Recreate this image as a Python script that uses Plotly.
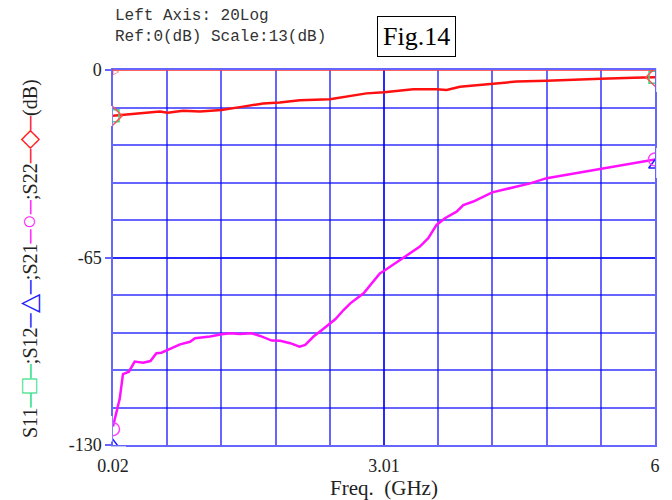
import plotly.graph_objects as go

# ---- data ----
s22_freq = [0.02, 0.204, 0.35, 0.536, 0.624, 0.793, 0.977, 1.217, 1.455, 1.676, 1.860, 2.081,
            2.412, 2.597, 2.817, 3.012, 3.186, 3.332, 3.590, 3.701, 3.848, 4.069, 4.204,
            4.473, 4.805, 5.136, 5.401, 5.761, 6.0]
s22_db = [-15.9, -15.3, -15.0, -14.4, -14.8, -14.1, -14.4, -13.9, -12.7, -11.6, -11.3, -10.5,
          -10.1, -9.2, -8.1, -7.7, -7.2, -6.7, -6.7, -6.9, -5.8, -5.2, -4.6,
          -4.0, -3.7, -3.2, -3.0, -2.7, -2.5]

s21_freq = [0.02, 0.094, 0.130, 0.196, 0.259, 0.351, 0.433, 0.499, 0.554, 0.620, 0.760, 0.870,
            0.925, 1.091, 1.220, 1.312, 1.422, 1.551, 1.643, 1.772, 1.864, 1.975, 2.078,
            2.141, 2.233, 2.325, 2.417, 2.472, 2.564, 2.638, 2.785, 2.964, 3.012, 3.186,
            3.406, 3.498, 3.590, 3.682, 3.811, 3.885, 3.995, 4.204, 4.288, 4.403, 4.623,
            4.805, 5.401, 5.945, 6.0]
s21_db = [-123.6, -114.0, -105.4, -104.6, -101.1, -101.5, -100.9, -98.2, -98.0, -97.1, -95.1, -94.2,
          -93.0, -92.4, -91.6, -91.3, -91.5, -91.3, -92.2, -93.8, -93.9, -94.7, -95.9,
          -95.3, -92.4, -90.1, -87.6, -86.4, -83.2, -80.9, -77.4, -70.5, -69.6, -65.9,
          -61.2, -58.3, -53.7, -51.4, -49.1, -46.8, -45.6, -42.4, -41.8, -40.8, -39.3,
          -37.5, -34.3, -31.2, -31.0]

end_freq = [0.02, 6.0]
s11_end_db = [-15.9, -2.5]
s12_end_db = [-130.0, -33.0]
s21_end_db = [-124.5, -31.0]
s22_end_db = [-15.9, -2.5]

x_ticks = [0.02, 3.01, 6]
x_labels = ["0.02", "3.01", "6"]
y_ticks = [0, -65, -130]
y_labels = ["0", "-65", "-130"]

GRID = "rgba(0,0,255,0.6)"
SERIF = "Liberation Serif"

# plot area in pixels (layout geometry)
L, R, T, B, W, H = 113, 17, 70, 55, 672, 500
PW, PH = W - L - R, H - T - B


def px_x(p):
    return (p - L) / PW


def px_y(p):
    return (H - B - p) / PH


fig = go.Figure()

fig.add_trace(go.Scatter(x=s22_freq, y=s22_db, mode="lines",
                         line=dict(color="#ff1010", width=2.5), showlegend=False))
fig.add_trace(go.Scatter(x=s21_freq, y=s21_db, mode="lines",
                         line=dict(color="#ff10ff", width=2.5), showlegend=False))

# end markers
fig.add_trace(go.Scatter(x=end_freq, y=s11_end_db, mode="markers", showlegend=False,
                         marker=dict(symbol="square-open", size=12, color="#33dd88", line=dict(width=1.5))))
fig.add_trace(go.Scatter(x=end_freq, y=s22_end_db, mode="markers", showlegend=False,
                         marker=dict(symbol="diamond-open", size=14, color="#ff5050", line=dict(width=1.5))))
fig.add_trace(go.Scatter(x=end_freq, y=s12_end_db, mode="markers", showlegend=False,
                         marker=dict(symbol="triangle-up-open", size=11, color="#2020ff", line=dict(width=1.5))))
fig.add_trace(go.Scatter(x=end_freq, y=s21_end_db, mode="markers", showlegend=False,
                         marker=dict(symbol="circle-open", size=13, color="#ff40ff", line=dict(width=1.5))))

# white masks so the end markers look clipped at the plot edge
masks = [
    (104.5, 112.2, 106, 126),    # left, S11/S22
    (105.5, 112.2, 416, 441.5),  # left, S21/S12
    (105.5, 126, 446.4, 453),    # bottom, S12
    (656.2, 672, 64, 92),        # right, S11/S22
    (656.2, 672, 148, 178),      # right, S21/S12
]
for x0, x1, y0, y1 in masks:
    fig.add_shape(type="rect", xref="paper", yref="paper", layer="above",
                  x0=px_x(x0), x1=px_x(x1), y0=px_y(y1), y1=px_y(y0),
                  fillcolor="white", line=dict(width=0))

# reference line at 0 dB
fig.add_shape(type="line", xref="paper", yref="y", x0=0, x1=1, y0=0, y1=0,
              line=dict(color="rgba(255,60,60,0.8)", width=2))
fig.add_annotation(text="▷", x=0.02, y=0, xanchor="left", yanchor="middle", showarrow=False,
                   font=dict(size=8, color="#ff3030"), xshift=-2)

fig.update_xaxes(range=[0.02, 6], tickvals=x_ticks, ticktext=x_labels, automargin=False,
                 showgrid=True, gridcolor=GRID, gridwidth=1.5,
                 minor=dict(tick0=0.02, dtick=0.598, showgrid=True, gridcolor=GRID, gridwidth=1.5),
                 showline=True, linecolor=GRID, linewidth=1.5, mirror=True,
                 ticks="", zeroline=False, ticklabelstandoff=4,
                 tickfont=dict(family=SERIF, size=18, color="#222"),
                 title=dict(text="Freq.  (GHz)", font=dict(family=SERIF, size=21, color="#222"), standoff=8))
fig.update_yaxes(range=[-130, 0], tickvals=y_ticks, ticktext=y_labels, automargin=False,
                 showgrid=True, gridcolor=GRID, gridwidth=1.5,
                 minor=dict(tick0=0, dtick=13, showgrid=True, gridcolor=GRID, gridwidth=1.5),
                 showline=True, linecolor=GRID, linewidth=1.5, mirror=True,
                 ticks="outside", ticklen=6, tickcolor=GRID, tickwidth=1.5, zeroline=False,
                 tickfont=dict(family=SERIF, size=18, color="#222"))

BIG = "font-size:25px"
ylabel = (f"S11<span style='color:#22dd77'>─<span style='{BIG}'>□</span>─</span>"
          f";S12<span style='color:#2020ff'>─<span style='{BIG}'>△</span>─</span>"
          f";S21<span style='color:#ff20ff'>─<span style='{BIG}'>○</span>─</span>"
          f";S22<span style='color:#ff2020'>─<span style='{BIG}'>◇</span>─</span>(dB)")
fig.add_annotation(text=ylabel, xref="paper", yref="paper", x=px_x(28), y=px_y(259),
                   xanchor="center", yanchor="middle",
                   textangle=-90, showarrow=False, font=dict(family=SERIF, size=20, color="#222"))

fig.add_annotation(text="Left Axis: 20Log<br>Ref:0(dB) Scale:13(dB)", xref="paper", yref="paper",
                   x=0, y=px_y(5), xanchor="left", yanchor="top", align="left", showarrow=False,
                   font=dict(family="Liberation Mono", size=16, color="#333"))
fig.add_annotation(text="Fig.14", xref="paper", yref="paper", x=px_x(416), y=px_y(36.5),
                   xanchor="center", yanchor="middle",
                   showarrow=False, bordercolor="#000", borderwidth=1, borderpad=5,
                   font=dict(family=SERIF, size=26, color="#000"))

fig.update_layout(width=W, height=H, autosize=False,
                  margin=dict(l=L, r=R, t=T, b=B),
                  plot_bgcolor="white", paper_bgcolor="white")

fig.write_html("out.html")
